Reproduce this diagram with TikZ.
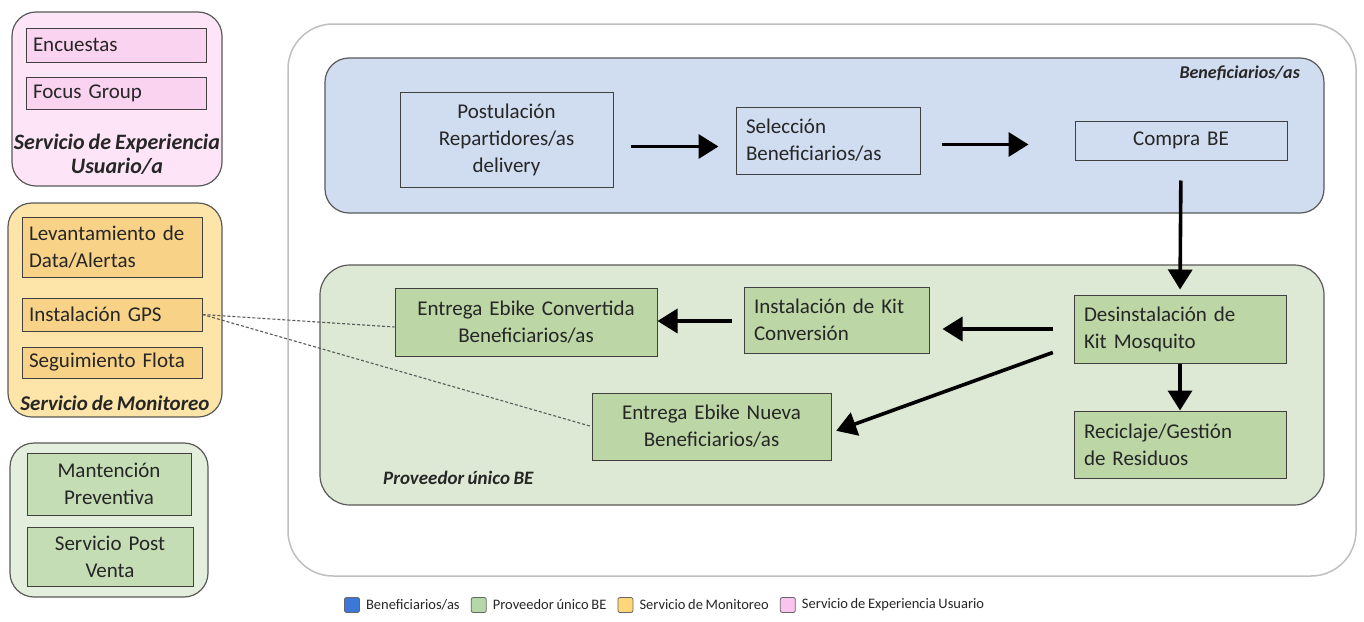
\documentclass[tikz,border=0pt]{standalone}
\usepackage{fontspec}
\setmainfont{Carlito}[WordSpace=0.8]
\usetikzlibrary{arrows.meta,calc,positioning}
\definecolor{txt}{HTML}{262626}
\definecolor{pinkpanel}{HTML}{FDE4F6}
\definecolor{pinkbox}{HTML}{F9D3EF}
\definecolor{orpanel}{HTML}{FDE5A9}
\definecolor{orbox}{HTML}{F8D286}
\definecolor{lgpanel}{HTML}{E3EFDC}
\definecolor{lgbox}{HTML}{C5DDB5}
\definecolor{gpanel}{HTML}{DDE9D4}
\definecolor{gbox}{HTML}{BCD6A6}
\definecolor{bpanel}{HTML}{D0DCEF}
\definecolor{legblue}{HTML}{3D78D8}
\definecolor{leggreen}{HTML}{B6D7A8}
\definecolor{legorange}{HTML}{FFD77A}
\definecolor{legpink}{HTML}{F9C4EE}
\newcommand\mybox[7]{%
 \pgfmathsetmacro\myboxh{#6-#4}\pgfmathsetmacro\myboxt{#5-#3-20}%
 \pgfmathsetmacro\myboxcx{(#3+#5)/2}\pgfmathsetmacro\myboxcy{(#4+#6)/2}%
 \node[minimum height=\myboxh pt, text width=\myboxt pt, #2] (#1) at (\myboxcx,\myboxcy) {#7};}
\begin{document}
\begin{tikzpicture}[x=1pt,y=-1pt,
  boxtext/.style={font=\fontsize{21}{27}\selectfont, text=txt},
  basebox/.style={boxtext, draw=black!75, line width=1pt, inner xsep=10pt, inner ysep=0pt, align=center},
  lbox/.style={basebox, align=left},
  sidebox/.style={lbox, inner xsep=7pt, text width=166pt},
  panel/.style={draw=black!65, line width=1.2pt, rounded corners=24pt},
  plabel/.style={font=\fontsize{21}{25}\selectfont\bfseries\itshape, text=txt, align=center, inner sep=0pt},
  flow/.style={line width=3.6pt, -{Triangle[length=20pt,width=24pt]}},
  gpsline/.style={draw=black!65, line width=1.1pt, dash pattern=on 3pt off 2pt},
  lsq/.style={draw=black!60, line width=0.8pt, minimum size=15pt, inner sep=0pt, rounded corners=2pt},
  ltext/.style={font=\fontsize{14.5}{16}\selectfont, text=txt, inner sep=0pt}
]
\useasboundingbox[fill=white] (0,0) rectangle (1364,621);

% ---------- left panels ----------
\draw[panel, fill=pinkpanel] (12,12) rectangle (222,186);
\mybox{enc}{sidebox, fill=pinkbox}{28}{28}{204}{62}{Encuestas}
\mybox{foc}{sidebox, fill=pinkbox}{28}{77}{204}{109}{Focus Group}
\node[plabel, font=\fontsize{22}{24}\selectfont\bfseries\itshape] (pinklab) at (117,154) {Servicio de Experiencia\\Usuario/a};

\draw[panel, fill=orpanel] (8,203) rectangle (222,417);
\mybox{lev}{sidebox, fill=orbox}{22}{217}{202}{277}{Levantamiento de\\Data/Alertas}
\mybox{gps}{sidebox, fill=orbox}{22}{298}{202}{331}{Instalación GPS}
\mybox{seg}{sidebox, fill=orbox}{22}{347}{202}{378}{Seguimiento Flota}
\node[plabel] (orlab) at (115,403) {Servicio de Monitoreo};

\draw[panel, fill=lgpanel] (10,443) rectangle (208,597);
\mybox{man}{basebox, fill=lgbox}{27}{453}{191}{515}{Mantención\\Preventiva}
\mybox{spv}{basebox, fill=lgbox}{27}{527}{193}{586}{Servicio Post\\Venta}

% ---------- main area ----------
\draw[draw=black!25, line width=1.5pt, rounded corners=45pt] (288,24) rectangle (1356,576);

\draw[panel, fill=bpanel] (325,58) rectangle (1324,213);
\node[plabel, font=\fontsize{18}{20}\selectfont\bfseries\itshape, anchor=east] (blab) at (1300,73) {Beneficiarios/as};
\mybox{post}{basebox}{400}{92}{613}{187}{Postulación\\Repartidores/as\\delivery}
\mybox{sel}{lbox}{736}{107}{920}{174}{Selección\\Beneficiarios/as}
\mybox{comp}{basebox}{1075}{121}{1287}{160}{Compra BE}

\draw[panel, rounded corners=30pt, fill=gpanel] (320,265) rectangle (1324,505);
\node[plabel, font=\fontsize{19}{21}\selectfont\bfseries\itshape, anchor=west] (glab) at (383,478) {Proveedor único BE};
\mybox{ec}{basebox, fill=gbox}{395}{288}{657}{356}{Entrega Ebike Convertida\\Beneficiarios/as}
\mybox{ik}{lbox, fill=gbox}{744}{287}{929}{353}{Instalación de Kit\\Conversión}
\mybox{des}{lbox, fill=gbox}{1074}{295}{1286}{363}{Desinstalación de\\Kit Mosquito}
\mybox{rec}{lbox, fill=gbox}{1074}{411}{1286}{478}{Reciclaje/Gestión\\de Residuos}
\mybox{nue}{basebox, fill=gbox}{592}{393}{831}{460}{Entrega Ebike Nueva\\Beneficiarios/as}

% ---------- connectors ----------
\draw[flow, shorten <=17pt, shorten >=17pt] ([yshift=-7pt]post.east) -- ([yshift=-7pt]post.east -| sel.west);
\draw[flow, shorten <=21pt, shorten >=46pt] ([yshift=-4pt]sel.east) -- ([yshift=-4pt]sel.east -| comp.west);
\draw[flow, shorten <=20pt, shorten >=5pt] (comp.south) -- (des.north);
\draw[flow, shorten <=21pt, shorten >=13pt] (des.west) -- (des.west -| ik.east);
\draw[flow, shorten <=12pt] ([yshift=-1pt]ik.west) -- ([yshift=-1pt]ik.west -| ec.east);
\draw[flow, shorten <=22pt, shorten >=5pt] ([yshift=-16pt]des.west) -- ([yshift=-6pt]nue.east);
\draw[flow] (des.south) -- (rec.north);

\draw[gpsline] (gps.east) -- ([yshift=-5pt]ec.west);
\draw[gpsline] (gps.east) -- (nue.west);

% ---------- legend ----------
\node[lsq, fill=legblue] (l1) at (352,605) {};
\node[ltext, right=6pt of l1] (t1) {Beneficiarios/as};
\node[lsq, fill=leggreen, right=11pt of t1] (l2) {};
\node[ltext, right=6pt of l2] (t2) {Proveedor único BE};
\node[lsq, fill=legorange, right=11pt of t2] (l3) {};
\node[ltext, right=6pt of l3] (t3) {Servicio de Monitoreo};
\node[lsq, fill=legpink, right=11pt of t3] (l4) {};
\node[ltext, right=6pt of l4] (t4) {Servicio de Experiencia Usuario};
\end{tikzpicture}
\end{document}
